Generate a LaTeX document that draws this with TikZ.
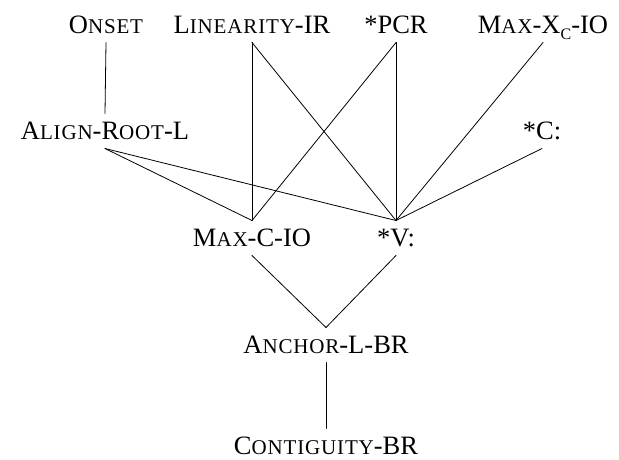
\documentclass[tikz,border=0pt]{standalone}
\usepackage{fontspec}
\setmainfont{Liberation Serif}
\newcommand{\fsc}[1]{{\fontsize{21pt}{22pt}\selectfont\addfontfeatures{LetterSpace=4}#1}}
\newcommand{\subc}[1]{\raisebox{-0.22em}{\fontsize{16pt}{16pt}\selectfont #1}}
\begin{document}
\begin{tikzpicture}[x=1pt,y=-1pt,
  con/.style={font=\fontsize{26.5pt}{28pt}\selectfont, inner xsep=0pt, inner ysep=9pt, outer sep=0pt, text height=17pt, text depth=0pt, anchor=center},
  edge/.style={line width=0.8pt, line cap=round}]
\useasboundingbox (0,0) rectangle (619,459);
\node[con] (onset)  at (106,25)  {O\fsc{NSET}};
\node[con] (lin)    at (252,25)  {L\fsc{INEARITY}-IR};
\node[con] (pcr)    at (396,25)  {*PCR};
\node[con] (maxx)   at (543,25)  {M\fsc{AX}-X\subc{C}-IO};
\node[con] (align)  at (105,131) {A\fsc{LIGN}-R\fsc{OOT}-L};
\node[con] (cc)     at (542,131) {*C:};
\node[con] (maxc)   at (252,238) {M\fsc{AX}-C-IO};
\node[con] (vv)     at (396,238) {*V:};
\node[con] (anchor) at (326,345) {A\fsc{NCHOR}-L-BR};
\node[con] (contig) at (326,446) {C\fsc{ONTIGUITY}-BR};
\draw[edge] (onset.south) -- (align.north);
\draw[edge] (lin.south) -- (maxc.north);
\draw[edge] (lin.south) -- (vv.north);
\draw[edge] (pcr.south) -- (maxc.north);
\draw[edge] (pcr.south) -- (vv.north);
\draw[edge] (maxx.south) -- (vv.north);
\draw[edge] (align.south) -- (maxc.north);
\draw[edge] (align.south) -- (vv.north);
\draw[edge] (cc.south) -- (vv.north);
\draw[edge] (maxc.south) -- (anchor.north);
\draw[edge] (vv.south) -- (anchor.north);
\draw[edge] (anchor.south) -- (contig.north);
\end{tikzpicture}
\end{document}
